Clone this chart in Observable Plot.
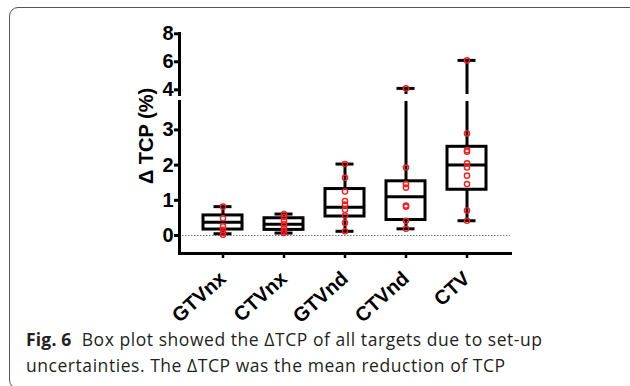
<!DOCTYPE html>
<html><head><meta charset="utf-8">
<script src="https://cdn.jsdelivr.net/npm/d3@7"></script>
<script src="https://cdn.jsdelivr.net/npm/@observablehq/plot@0.6"></script>
<style>
html,body{margin:0;padding:0;background:#fff;}
#wrap{position:relative;width:630px;height:386px;overflow:hidden;}
#wrap svg{position:absolute;left:0;top:0;overflow:visible;}
#border{position:absolute;left:9px;top:7px;width:630px;height:382px;border:1.5px solid #555;border-radius:9px;box-sizing:border-box;}
#ylab{position:absolute;left:146px;top:136px;transform:translate(-50%,-50%) rotate(-90deg);font:bold 20px "Liberation Sans",Arial,sans-serif;white-space:nowrap;color:#000;}
#cap{position:absolute;left:26px;top:326px;font:17.5px "Open Sans",sans-serif;line-height:26px;letter-spacing:0.55px;color:#231f20;white-space:nowrap;}
#cap b{font-weight:700;letter-spacing:0.2px;}
</style></head>
<body><div id="wrap"><div id="border"></div><div id="ylab">Δ TCP (%)</div>
<div id="cap"><b>Fig. 6</b>&nbsp; Box plot showed the ΔTCP of all targets due to set-up<br>uncertainties. The ΔTCP was the mean reduction of TCP</div></div>
<script>
const categories = ["GTVnx", "CTVnx", "GTVnd", "CTVnd", "CTV"];
const whiskerLow = [0.05, 0.07, 0.12, 0.19, 0.42];
const q1 = [0.17, 0.16, 0.54, 0.44, 1.30];
const median = [0.38, 0.32, 0.80, 1.10, 2.00];
const q3 = [0.57, 0.49, 1.32, 1.54, 2.52];
const whiskerHigh = [0.82, 0.61, 2.03, 4.10, 6.10];
const pointsGTVnx = [0.82, 0.49, 0.26, 0.16, 0.08, 0.02];
const pointsCTVnx = [0.61, 0.53, 0.42, 0.32, 0.22, 0.14, 0.07];
const pointsGTVnd = [2.03, 1.64, 1.25, 0.98, 0.88, 0.73, 0.57, 0.36, 0.12];
const pointsCTVnd = [4.10, 1.93, 1.46, 1.36, 0.85, 0.82, 0.42, 0.19];
const pointsCTV = [6.10, 2.90, 2.42, 2.38, 2.05, 1.93, 1.70, 1.46, 0.71, 0.42];
const lowerTicks = [0, 1, 2, 3];
const upperTicks = [4, 6, 8];

const boxes = categories.map((c, i) => ({cat: c, lo: whiskerLow[i], q1: q1[i], med: median[i], q3: q3[i], hi: whiskerHigh[i]}));
const pts = [pointsGTVnx, pointsCTVnx, pointsGTVnd, pointsCTVnd, pointsCTV]
  .flatMap((arr, i) => arr.map(v => ({cat: categories[i], v})));

const W = 630, ML = 179, MR = 120;
const xOpts = {type: "band", domain: categories, paddingInner: 0.355, paddingOuter: 0.347};
const font = "Liberation Sans, Arial, sans-serif";

function boxMarks(clip) {
  return [
    Plot.ruleX(boxes, {x: "cat", y1: "lo", y2: "q1", stroke: "#000", strokeWidth: 3, clip}),
    Plot.ruleX(boxes, {x: "cat", y1: "q3", y2: "hi", stroke: "#000", strokeWidth: 3, clip}),
    Plot.barY(boxes, {x: "cat", y1: "q1", y2: "q3", fill: "none", stroke: "#000", strokeWidth: 3, clip}),
    Plot.tickY(boxes, {x: "cat", y: "med", stroke: "#000", strokeWidth: 3, clip}),
    Plot.tickY(boxes, {x: "cat", y: "lo", stroke: "#000", strokeWidth: 3, insetLeft: 10.5, insetRight: 10.5, clip}),
    Plot.tickY(boxes, {x: "cat", y: "hi", stroke: "#000", strokeWidth: 3, insetLeft: 10.5, insetRight: 10.5, clip}),
    Plot.dot(pts, {x: "cat", y: "v", r: 2.6, stroke: "#ff1a1a", strokeWidth: 1.4, fill: "none", clip})
  ];
}

const upper = Plot.plot({
  width: W, height: 95, marginTop: 33, marginBottom: 1, marginLeft: ML, marginRight: MR,
  style: {background: "transparent", overflow: "visible", fontFamily: font},
  x: {...xOpts, axis: null},
  y: {domain: [3.664, 8.02], axis: null},
  marks: [
    Plot.frame({anchor: "left", strokeWidth: 3}),
    Plot.axisY({ticks: upperTicks, tickFormat: "d", tickSize: 5, tickPadding: 1, fontSize: 20, fontWeight: "bold", strokeWidth: 3, label: null}),
    ...boxMarks(true)
  ]
});

const lower = Plot.plot({
  width: W, height: 330, marginTop: 101, marginBottom: 77, marginLeft: ML, marginRight: MR,
  style: {background: "transparent", overflow: "visible", fontFamily: font},
  x: {...xOpts, axis: null},
  y: {domain: [-0.511, 3.807], axis: null},
  marks: [
    Plot.ruleY([0], {stroke: "#777", strokeWidth: 1, strokeDasharray: "1.5,1.5"}),
    Plot.frame({anchor: "left", strokeWidth: 3}),
    Plot.frame({anchor: "bottom", strokeWidth: 3}),
    Plot.axisY({ticks: lowerTicks, tickFormat: "d", tickSize: 5, tickPadding: 1, fontSize: 20, fontWeight: "bold", strokeWidth: 3, label: null}),
    Plot.axisX({tickRotate: -42, tickSize: 5, tickPadding: 17, fontSize: 20, fontWeight: "bold", strokeWidth: 2.5, label: null}),
    ...boxMarks(true)
  ]
});

const wrap = document.getElementById("wrap");
wrap.appendChild(lower);
wrap.appendChild(upper);
</script></body></html>
